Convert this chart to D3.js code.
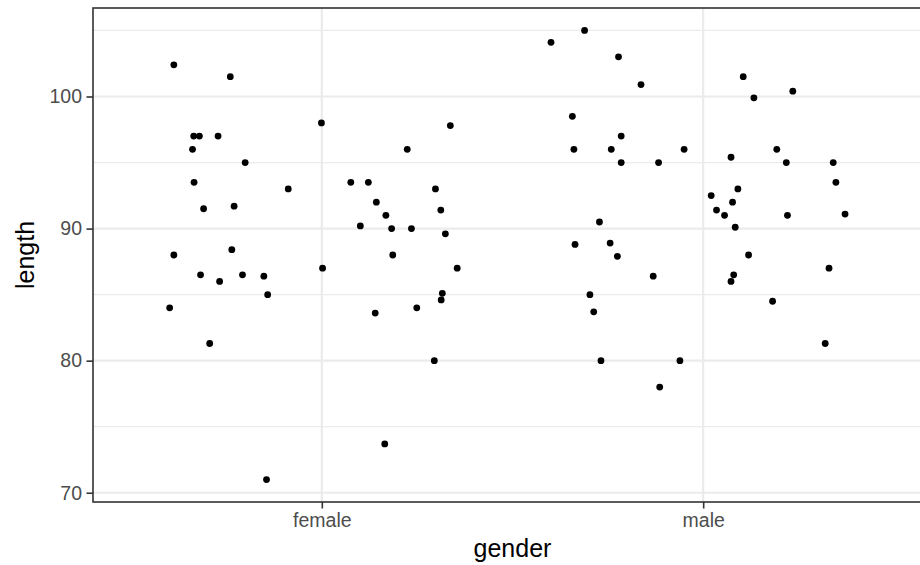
<!DOCTYPE html>
<html>
<head>
<meta charset="utf-8">
<script src="https://cdn.jsdelivr.net/npm/d3@7"></script>
<style>
  html, body { margin: 0; padding: 0; background: #fff; }
  svg { display: block; font-family: "Liberation Sans", Arial, sans-serif; }
</style>
</head>
<body>
<svg id="chart" width="920" height="565"></svg>
<script>
// Categories on the x axis
const categories = ["female", "male"];

// Lengths per group, with the horizontal jitter (in category units) each point was drawn with
const femaleLength = [102.4, 101.5, 97, 97, 97, 96, 95, 93.5, 93, 91.5, 91.7, 88, 88.4, 86.5, 86, 86.5, 86.4, 85, 84, 81.3, 71,
                      98, 87, 97.8, 96, 93.5, 93.5, 93, 92, 91, 91.4, 90.2, 90, 90, 89.6, 88, 87, 83.6, 84, 85.1, 84.6, 80, 73.7];
const femaleJitter = [-0.388, -0.240, -0.336, -0.321, -0.272, -0.339, -0.201, -0.335, -0.088, -0.310, -0.230, -0.388, -0.236,
                      -0.318, -0.268, -0.208, -0.152, -0.142, -0.399, -0.294, -0.145,
                      -0.001, 0.002, 0.337, 0.224, 0.076, 0.122, 0.298, 0.143, 0.168, 0.312, 0.101, 0.183, 0.235, 0.324,
                      0.186, 0.355, 0.140, 0.249, 0.316, 0.313, 0.295, 0.165];

const maleLength = [104.1, 105, 103, 100.9, 98.5, 96, 96, 97, 95, 95, 96, 90.5, 88.8, 88.9, 87.9, 86.4, 85, 83.7, 80, 80, 78,
                    101.5, 99.9, 100.4, 95.4, 96, 95, 95, 93.5, 92.5, 93, 92, 91.4, 91, 91, 91.1, 90.1, 88, 86.5, 86, 87, 84.5, 81.3];
const maleJitter = [-0.399, -0.311, -0.222, -0.163, -0.343, -0.339, -0.241, -0.215, -0.215, -0.117, -0.050, -0.272, -0.336,
                    -0.244, -0.225, -0.131, -0.297, -0.287, -0.268, -0.061, -0.114,
                    0.105, 0.133, 0.235, 0.073, 0.193, 0.218, 0.341, 0.348, 0.021, 0.091, 0.077, 0.035, 0.056, 0.221,
                    0.372, 0.084, 0.119, 0.080, 0.073, 0.330, 0.182, 0.320];

// Y axis ticks
const majorTicks = [70, 80, 90, 100];
const minorTicks = [75, 85, 95, 105];

const points = [
  ...femaleLength.map((v, i) => ({ group: 0, jitter: femaleJitter[i], value: v })),
  ...maleLength.map((v, i) => ({ group: 1, jitter: maleJitter[i], value: v }))
];

const svg = d3.select("#chart");
const panel = { left: 93, right: 932, top: 8, bottom: 502 };

// Discrete x positions 1..n with 0.6 expansion on each side
const x = d3.scaleLinear()
  .domain([1 - 0.6, categories.length + 0.6])
  .range([panel.left, panel.right]);

// Continuous y with 5% expansion of the data range
const [ymin, ymax] = d3.extent(points, d => d.value);
const pad = (ymax - ymin) * 0.05;
const y = d3.scaleLinear()
  .domain([ymin - pad, ymax + pad])
  .range([panel.bottom, panel.top]);

const grid = svg.append("g");
// minor grid
grid.selectAll("line.minor")
  .data(minorTicks)
  .join("line")
  .attr("x1", panel.left).attr("x2", panel.right)
  .attr("y1", d => y(d)).attr("y2", d => y(d))
  .attr("stroke", "#EBEBEB").attr("stroke-width", 1.2);
// major grid (horizontal)
grid.selectAll("line.majorY")
  .data(majorTicks)
  .join("line")
  .attr("x1", panel.left).attr("x2", panel.right)
  .attr("y1", d => y(d)).attr("y2", d => y(d))
  .attr("stroke", "#EBEBEB").attr("stroke-width", 2.2);
// major grid (vertical)
grid.selectAll("line.majorX")
  .data(categories.map((c, i) => i + 1))
  .join("line")
  .attr("x1", d => x(d)).attr("x2", d => x(d))
  .attr("y1", panel.top).attr("y2", panel.bottom)
  .attr("stroke", "#EBEBEB").attr("stroke-width", 2.2);

// points
svg.append("g")
  .selectAll("circle")
  .data(points)
  .join("circle")
  .attr("cx", d => x(d.group + 1 + d.jitter))
  .attr("cy", d => y(d.value))
  .attr("r", 3.4)
  .attr("fill", "#000");

// panel border
svg.append("rect")
  .attr("x", panel.left).attr("y", panel.top)
  .attr("width", panel.right - panel.left)
  .attr("height", panel.bottom - panel.top)
  .attr("fill", "none")
  .attr("stroke", "#333333")
  .attr("stroke-width", 1.6);

// axes
const xAxis = d3.axisBottom(x)
  .tickValues(categories.map((c, i) => i + 1))
  .tickFormat(d => categories[d - 1])
  .tickSize(6.5).tickPadding(5);
const yAxis = d3.axisLeft(y)
  .tickValues(majorTicks)
  .tickSize(6.5).tickPadding(4.5);

const gx = svg.append("g")
  .attr("transform", `translate(0,${panel.bottom})`)
  .call(xAxis);
const gy = svg.append("g")
  .attr("transform", `translate(${panel.left},0)`)
  .call(yAxis);

[gx, gy].forEach(g => {
  g.select(".domain").remove();
  g.selectAll(".tick line").attr("stroke", "#333333").attr("stroke-width", 1.6);
  g.selectAll(".tick text")
    .attr("fill", "#4D4D4D")
    .style("font-size", "19.5px")
    .style("font-family", "\"Liberation Sans\", Arial, sans-serif");
});

// axis titles
svg.append("text")
  .attr("x", (panel.left + panel.right) / 2)
  .attr("y", 557)
  .attr("text-anchor", "middle")
  .attr("fill", "#000")
  .style("font-size", "25px")
  .text("gender");

svg.append("text")
  .attr("transform", `translate(34,${(panel.top + panel.bottom) / 2}) rotate(-90)`)
  .attr("text-anchor", "middle")
  .attr("fill", "#000")
  .style("font-size", "25px")
  .text("length");
</script>
</body>
</html>
